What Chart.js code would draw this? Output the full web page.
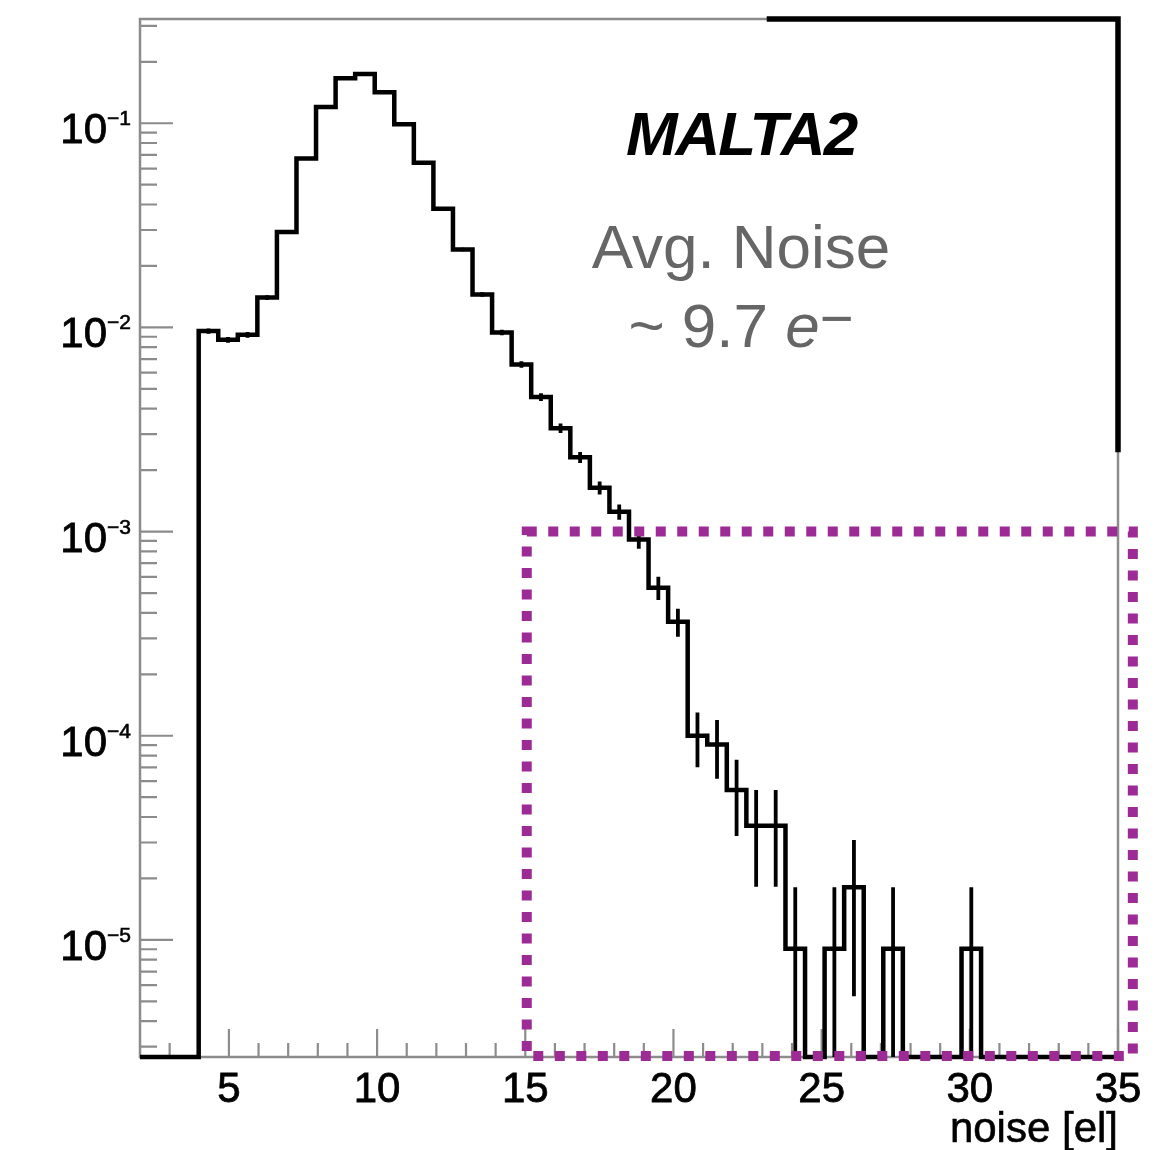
<!DOCTYPE html>
<html>
<head>
<meta charset="utf-8">
<script src="https://cdn.jsdelivr.net/npm/chart.js@4.4.1/dist/chart.umd.min.js"></script>
<style>
html,body{margin:0;padding:0;background:#ffffff;}
#wrap{width:1169px;height:1150px;position:relative;}
</style>
</head>
<body>
<div id="wrap"><canvas id="c"></canvas></div>
<script>
// ---------------- data ----------------
// lower edges of the 50 histogram bins (bin width 0.66, range 2 .. 35)
const binLow = [2.00, 2.66, 3.32, 3.98, 4.64, 5.30, 5.96, 6.62, 7.28, 7.94,
                8.60, 9.26, 9.92, 10.58, 11.24, 11.90, 12.56, 13.22, 13.88, 14.54,
                15.20, 15.86, 16.52, 17.18, 17.84, 18.50, 19.16, 19.82, 20.48, 21.14,
                21.80, 22.46, 23.12, 23.78, 24.44, 25.10, 25.76, 26.42, 27.08, 27.74,
                28.40, 29.06, 29.72, 30.38, 31.04, 31.70, 32.36, 33.02, 33.68, 34.34];
const binWidth = 0.66;
// normalised entries per bin
const binValues = [0, 0, 0, 0.0096, 0.0087, 0.0092, 0.0140, 0.0293, 0.0671, 0.120,
                   0.166, 0.174, 0.142, 0.0989, 0.0640, 0.0381, 0.0241, 0.0145, 0.00944, 0.00659,
                   0.00456, 0.00321, 0.00231, 0.00164, 0.00125, 0.000914, 0.000531, 0.000362, 0.000100, 0.0000905,
                   0.0000543, 0.0000362, 0.0000362, 0.00000905, 0, 0.00000905, 0.0000181, 0, 0.00000905, 0,
                   0, 0, 0.00000905, 0, 0, 0, 0, 0, 0, 0];
// error bar half-lengths per bin
const binErrors = [0, 0, 0, 0.00029, 0.00028, 0.00029, 0.00036, 0.00051, 0.00078, 0.00104,
                   0.00123, 0.00125, 0.00113, 0.00095, 0.00076, 0.00059, 0.00047, 0.00036, 0.00029, 0.00024,
                   0.00020, 0.00017, 0.000145, 0.00012, 0.000106, 0.000091, 0.000069, 0.000057, 0.000030, 0.000029,
                   0.000022, 0.000018, 0.000018, 0.00000905, 0, 0.00000905, 0.0000128, 0, 0.00000905, 0,
                   0, 0, 0.00000905, 0, 0, 0, 0, 0, 0, 0];
const xRange = [2, 35];
const yRange = [2.67e-6, 0.324];
const xMajorTicks = [5, 10, 15, 20, 25, 30, 35];
const xTickLabels = ['5', '10', '15', '20', '25', '30', '35'];
const xMinorTicks = [3, 4, 6, 7, 8, 9, 11, 12, 13, 14, 16, 17, 18, 19, 21, 22, 23, 24, 26, 27, 28, 29, 31, 32, 33, 34];
const yDecades = [1e-5, 1e-4, 1e-3, 1e-2, 1e-1];
const yTickExponents = ['\u22125', '\u22124', '\u22123', '\u22122', '\u22121'];
const yMinorDecades = [1e-6, 1e-5, 1e-4, 1e-3, 1e-2, 1e-1];
const yMinorMultipliers = [2, 3, 4, 5, 6, 7, 8, 9];
const xTitle = 'noise [el]';
const labelTitle = 'MALTA2';
const labelLine1 = 'Avg. Noise';
const labelLine2 = ['~ 9.7 ', 'e', '\u2212'];
// highlighted region (data coordinates)
const boxX = [15.05, 35.5];
const boxYTop = 1e-3;
// black frame overlay (data coordinates)
const accentXStart = 23.24;
const accentYEnd = 2.52e-3;

// ---------------- build dataset ----------------
const yMin = yRange[0];
const stepPoints = binLow.map((x, i) => ({x: x, y: Math.max(binValues[i], yMin)}));
stepPoints.push({x: xRange[1], y: Math.max(binValues[binValues.length - 1], yMin)});

const FONT = '"Liberation Sans", Arial, Helvetica, sans-serif';
const frameColor = '#8c8c8c';

function heavyText(ctx, txt, x, y, w) {
  ctx.fillText(txt, x, y);
  ctx.lineWidth = w;
  ctx.strokeStyle = ctx.fillStyle;
  ctx.strokeText(txt, x, y);
}

const rootStyle = {
  id: 'rootStyle',
  beforeDatasetsDraw(chart) {
    const {ctx, chartArea: a, scales: {x, y}} = chart;
    ctx.save();
    ctx.strokeStyle = frameColor;
    ctx.lineWidth = 2.5;
    ctx.strokeRect(a.left, a.top, a.right - a.left, a.bottom - a.top);
    ctx.lineWidth = 2.2;
    ctx.beginPath();
    xMajorTicks.forEach(v => {
      const px = x.getPixelForValue(v);
      ctx.moveTo(px, a.bottom); ctx.lineTo(px, a.bottom - 28);
    });
    xMinorTicks.forEach(v => {
      const px = x.getPixelForValue(v);
      ctx.moveTo(px, a.bottom); ctx.lineTo(px, a.bottom - 14);
    });
    yDecades.forEach(v => {
      const py = y.getPixelForValue(v);
      ctx.moveTo(a.left, py); ctx.lineTo(a.left + 33, py);
    });
    yMinorDecades.forEach(d => {
      yMinorMultipliers.forEach(m => {
        const v = d * m;
        if (v > yRange[0] && v < yRange[1]) {
          const py = y.getPixelForValue(v);
          ctx.moveTo(a.left, py); ctx.lineTo(a.left + 17, py);
        }
      });
    });
    ctx.stroke();
    ctx.restore();
  },
  afterDatasetsDraw(chart) {
    const {ctx, chartArea: a, scales: {x, y}} = chart;
    ctx.save();
    // error bars
    ctx.strokeStyle = '#000';
    ctx.lineWidth = 3.8;
    ctx.beginPath();
    binValues.forEach((v, i) => {
      const e = binErrors[i];
      if (v > 0 && e > 0) {
        const px = x.getPixelForValue(binLow[i] + binWidth / 2);
        const lo = Math.max(v - e, yMin);
        const hi = v + e;
        ctx.moveTo(px, y.getPixelForValue(lo));
        ctx.lineTo(px, y.getPixelForValue(hi));
      }
    });
    ctx.stroke();

    // x tick labels
    ctx.fillStyle = '#000';
    ctx.font = '42px ' + FONT;
    ctx.textAlign = 'center';
    ctx.textBaseline = 'alphabetic';
    xMajorTicks.forEach((v, i) => {
      heavyText(ctx, xTickLabels[i], x.getPixelForValue(v), a.bottom + 45, 0.8);
    });
    // x title
    ctx.textAlign = 'right';
    heavyText(ctx, xTitle, a.right, a.bottom + 85, 0.6);

    // y tick labels 10^n
    yDecades.forEach((v, i) => {
      const py = y.getPixelForValue(v);
      ctx.font = '21px ' + FONT;
      const sw = ctx.measureText(yTickExponents[i]).width;
      const supX = a.left - 9 - sw;
      ctx.textAlign = 'left';
      heavyText(ctx, yTickExponents[i], supX, py + 2, 0.6);
      ctx.font = '42px ' + FONT;
      const bw = ctx.measureText('10').width;
      heavyText(ctx, '10', supX - bw, py + 20, 0.8);
    });

    // labels
    const cx = 741;
    ctx.textAlign = 'center';
    ctx.fillStyle = '#000';
    ctx.font = 'italic bold 62px ' + FONT;
    if ('letterSpacing' in ctx) ctx.letterSpacing = '-2px';
    ctx.fillText(labelTitle, cx, 155);
    if ('letterSpacing' in ctx) ctx.letterSpacing = '0px';
    ctx.fillStyle = '#666666';
    ctx.font = '62px ' + FONT;
    ctx.fillText(labelLine1, cx, 268);
    // second line: "~ 9.7 e^-"
    ctx.textAlign = 'left';
    ctx.font = '62px ' + FONT;
    const w0 = ctx.measureText(labelLine2[0]).width;
    ctx.font = 'italic 62px ' + FONT;
    const w1 = ctx.measureText(labelLine2[1]).width;
    ctx.font = '58px ' + FONT;
    const w2 = ctx.measureText(labelLine2[2]).width;
    let sx = cx - (w0 + w1 + w2) / 2;
    ctx.font = '62px ' + FONT;
    ctx.fillText(labelLine2[0], sx, 347);
    sx += w0;
    ctx.font = 'italic 62px ' + FONT;
    ctx.fillText(labelLine2[1], sx, 347);
    sx += w1;
    ctx.font = '58px ' + FONT;
    ctx.fillText(labelLine2[2], sx, 338);

    // black frame overlay at top right
    ctx.strokeStyle = '#000';
    ctx.lineWidth = 5.5;
    ctx.lineCap = 'square';
    ctx.beginPath();
    ctx.moveTo(x.getPixelForValue(accentXStart), a.top);
    ctx.lineTo(a.right, a.top);
    ctx.lineTo(a.right, y.getPixelForValue(accentYEnd));
    ctx.stroke();
    ctx.lineCap = 'butt';

    // dotted highlight box
    ctx.strokeStyle = '#9c2b95';
    ctx.lineWidth = 10;
    ctx.setLineDash([10, 11.5]);
    const bx1 = x.getPixelForValue(boxX[0]);
    const bx2 = x.getPixelForValue(boxX[1]);
    const by1 = y.getPixelForValue(boxYTop);
    const by2 = y.getPixelForValue(yMin) - 1;
    ctx.strokeRect(bx1, by1, bx2 - bx1, by2 - by1);
    ctx.setLineDash([]);
    ctx.restore();
  }
};

new Chart(document.getElementById('c'), {
  type: 'line',
  data: {
    datasets: [{
      data: stepPoints,
      stepped: true,
      borderColor: '#000000',
      borderWidth: 4.5,
      pointRadius: 0,
      fill: false,
      tension: 0,
      clip: false,
      borderJoinStyle: 'miter'
    }]
  },
  options: {
    responsive: true,
    maintainAspectRatio: false,
    animation: false,
    events: [],
    layout: {padding: {left: 140, top: 19, right: 51, bottom: 93}},
    plugins: {legend: {display: false}, tooltip: {enabled: false}, title: {display: false}},
    scales: {
      x: {type: 'linear', min: xRange[0], max: xRange[1], display: false, bounds: 'data'},
      y: {type: 'logarithmic', min: yRange[0], max: yRange[1], display: false, bounds: 'data'}
    }
  },
  plugins: [rootStyle]
});
</script>
</body>
</html>
